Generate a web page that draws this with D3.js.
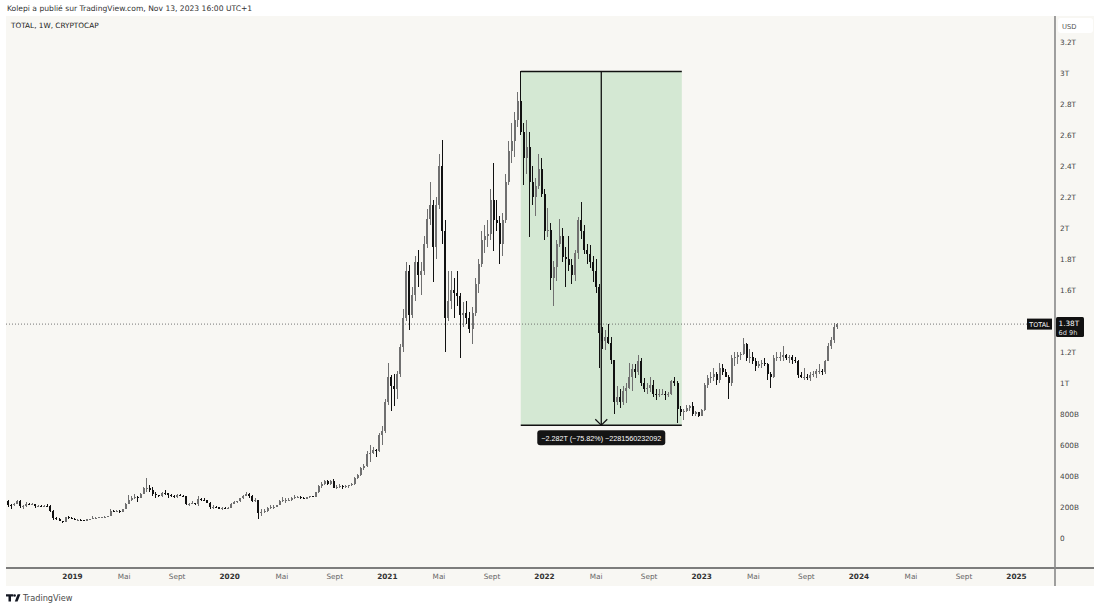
<!DOCTYPE html>
<html><head><meta charset="utf-8">
<script src="https://cdn.jsdelivr.net/npm/d3@7"></script>
<style>
body{margin:0;background:#fff;}
svg{display:block;font-family:"DejaVu Sans",sans-serif;}
</style>
</head><body>
<svg id="c" width="1100" height="608"></svg>
<script>
// ---------- DATA (weekly candles, values in billions USD) ----------
const firstWeek = "2018-08-06";
const firstOpen = 240;

const close2018 = [212,210,220,238,205,208,222,218,218,205,206,203,208,207,175,128,125,110,103,133,128,123];
const high2018  = [245,222,225,245,245,212,230,228,225,222,212,210,210,218,210,178,138,128,112,138,142,135];
const low2018   = [200,188,205,218,195,190,200,212,212,196,200,200,200,203,170,118,118,108,100,102,122,120];

const close2019 = [118,119,115,111,120,121,132,132,134,136,138,144,172,171,176,168,188,222,248,258,265,258,285,325,325,310,285,275,268,292,290,275,272,262,278,272,270,220,222,225,220,250,248,243,228,200,202,200,190,195,193,196];
const high2019  = [130,124,122,118,122,125,140,137,136,138,142,145,185,182,180,182,190,225,275,270,285,268,290,330,388,345,330,300,280,295,310,292,285,275,285,285,280,272,225,240,228,270,260,256,245,230,210,207,202,200,202,200];
const low2019   = [114,114,112,108,108,117,120,126,127,131,133,135,142,165,168,160,166,185,220,240,250,235,255,283,300,295,270,255,262,262,280,255,262,255,258,268,262,210,208,218,215,205,240,240,225,190,188,195,188,180,190,190];

const close2020 = [222,235,238,255,272,282,268,240,245,160,170,175,195,198,200,212,238,245,245,248,260,262,262,258,253,262,268,265,295,335,350,365,350,365,325,330,338,328,335,340,350,390,405,450,465,540,550,565,560,665,690,880];
const high2020  = [225,240,240,258,275,295,290,275,260,248,185,188,200,210,210,215,245,262,255,255,262,275,268,268,262,265,272,272,300,340,360,372,375,372,380,340,350,345,340,345,355,395,410,460,475,560,600,590,575,680,720,900];
const low2020   = [195,218,225,235,250,268,260,235,235,120,145,160,170,190,190,198,210,232,228,238,240,252,255,252,250,250,258,262,262,292,325,340,345,345,320,315,325,315,322,325,338,345,380,400,440,460,490,540,520,555,600,680];

const close2021 = [1040,980,960,1060,1230,1420,1720,1440,1570,1780,1700,1720,1900,2060,2150,1880,2150,2400,1980,1420,1530,1600,1580,1560,1440,1450,1420,1350,1450,1640,1770,1920,1950,1960,2180,2050,2030,1900,2050,2300,2500,2560,2700,2820,2620,2450,2520,2300,2200,2270,2380,2220];
const high2021  = [1130,1050,1060,1080,1250,1480,1780,1760,1620,1820,1860,1780,1950,2120,2300,2180,2200,2480,2570,2050,1720,1720,1680,1720,1580,1520,1530,1460,1490,1680,1800,1980,2020,2050,2250,2420,2180,2080,2100,2350,2560,2680,2750,2880,3010,2680,2700,2620,2400,2320,2480,2450];
const low2021   = [860,820,850,900,1040,1200,1400,1340,1420,1530,1620,1570,1700,1870,2020,1650,1800,2120,1900,1200,1400,1480,1420,1500,1160,1360,1380,1320,1250,1430,1580,1750,1840,1880,1920,1850,1980,1770,1820,2030,2280,2420,2460,2650,2600,2280,2350,1940,2150,2080,2250,2200];

const close2022 = [1980,1990,1680,1750,1900,1950,1810,1800,1760,1700,1840,2050,1980,1860,1830,1780,1720,1620,1320,1270,1300,1260,1150,880,910,880,950,970,1040,1090,1070,1140,1000,960,970,990,930,920,930,930,920,930,1010,1000,830,810,820,840,850,800,810,790];
const high2022  = [2250,2130,2030,1790,1920,2060,2000,1880,1950,1800,1860,2070,2170,2020,1900,1890,1820,1800,1640,1360,1340,1380,1300,1150,980,960,980,1000,1130,1120,1120,1180,1160,1030,1000,1040,1020,960,960,960,950,940,1020,1040,1010,850,830,860,860,880,820,815];
const low2022   = [1920,1940,1600,1500,1660,1880,1780,1620,1720,1640,1660,1800,1930,1830,1770,1740,1650,1580,1100,1220,1210,1250,1120,800,860,840,860,870,960,950,1030,1050,980,940,930,940,910,890,910,920,890,910,920,980,745,790,760,810,820,790,790,780];

const close2023 = [825,990,1030,1040,1060,1020,1100,1070,1040,1000,1160,1170,1180,1190,1250,1160,1170,1140,1110,1120,1130,1120,1060,1040,1160,1170,1170,1180,1160,1170,1150,1140,1050,1040,1040,1030,1050,1060,1080,1080,1070,1140,1240,1280,1360,1380];
const high2023  = [830,1000,1050,1070,1100,1070,1130,1120,1090,1050,1180,1200,1200,1200,1290,1260,1220,1200,1160,1140,1150,1160,1130,1070,1180,1200,1200,1240,1190,1180,1180,1170,1150,1070,1100,1060,1070,1080,1090,1120,1090,1150,1260,1300,1390,1390];
const low2023   = [785,820,970,1000,1010,990,1000,1050,1040,900,980,1110,1120,1150,1180,1140,1130,1120,1080,1100,1100,1110,1020,970,1030,1140,1140,1140,1150,1130,1120,1130,1030,1030,1020,1020,1010,1040,1030,1060,1050,1060,1140,1220,1260,1350];

// axis ticks (1.4T is hidden under the last-price label in the original)
const xTickDates  = ["2019-01-01","2019-05-01","2019-09-01","2020-01-01","2020-05-01","2020-09-01","2021-01-01","2021-05-01","2021-09-01","2022-01-01","2022-05-01","2022-09-01","2023-01-01","2023-05-01","2023-09-01","2024-01-01","2024-05-01","2024-09-01","2025-01-01"];
const xTickLabels = ["2019","Mai","Sept","2020","Mai","Sept","2021","Mai","Sept","2022","Mai","Sept","2023","Mai","Sept","2024","Mai","Sept","2025"];
const yTicks = [0,200,400,600,800,1000,1200,1600,1800,2000,2200,2400,2600,2800,3000,3200];

// measurement annotation
const measureDates  = ["2021-11-08","2022-11-17"];
const measureValues = [3009.7, 727.7];
const measureText   = "\u22122.282T (\u221275.82%) \u22122281560232092";
const lastValue = 1380;

// ---------- BUILD ----------
const closes = [].concat(close2018, close2019, close2020, close2021, close2022, close2023);
const highs  = [].concat(high2018, high2019, high2020, high2021, high2022, high2023);
const lows   = [].concat(low2018, low2019, low2020, low2021, low2022, low2023);
const t0 = new Date(firstWeek + "T00:00:00Z");
const candles = closes.map((c, i) => ({
  date: d3.utcWeek.offset(t0, i),
  open: i === 0 ? firstOpen : closes[i - 1],
  high: highs[i], low: lows[i], close: c
}));

const svg = d3.select("#c");
const W = 1100, H = 608;
const paneL = 6, paneR = 1094, paneT = 16, paneB = 586, plotR = 1055, plotB = 568;

const x = d3.scaleUtc()
  .domain([new Date("2019-01-01T00:00:00Z"), new Date("2025-01-01T00:00:00Z")])
  .range([72, 1016]);
const y = d3.scaleLinear().domain([0, 3000]).range([538, 73]);

svg.append("rect").attr("width", W).attr("height", H).attr("fill", "#fff");
svg.append("rect").attr("x", paneL).attr("y", paneT).attr("width", paneR - paneL).attr("height", paneB - paneT).attr("fill", "#f8f7f3");

// header
svg.append("text").attr("x", 7).attr("y", 11).attr("font-size", 7.6).attr("fill", "#333")
  .text("Kolepi a publié sur TradingView.com, Nov 13, 2023 16:00 UTC+1");
svg.append("text").attr("x", 11).attr("y", 28).attr("font-size", 7.3).attr("fill", "#222")
  .text("TOTAL, 1W, CRYPTOCAP");

const defs = svg.append("defs");
defs.append("clipPath").attr("id", "plotclip").append("rect")
  .attr("x", paneL).attr("y", paneT).attr("width", plotR - paneL).attr("height", plotB - paneT);

const plot = svg.append("g").attr("clip-path", "url(#plotclip)");

// measurement box fill
const mx0 = x(new Date(measureDates[0] + "T00:00:00Z")), mx1 = x(new Date(measureDates[1] + "T00:00:00Z"));
const my0 = y(measureValues[0]), my1 = y(measureValues[1]);
plot.append("rect").attr("x", mx0).attr("y", my0).attr("width", mx1 - mx0).attr("height", my1 - my0)
  .attr("fill", "#d4e8d3");

// last price dotted line
plot.append("line").attr("x1", paneL).attr("x2", 1027).attr("y1", y(lastValue)).attr("y2", y(lastValue))
  .attr("stroke", "#555").attr("stroke-width", 0.8).attr("stroke-dasharray", "1,2");

// candles
const cg = plot.append("g").attr("shape-rendering", "crispEdges");
const up = "#707070", dn = "#111";
cg.selectAll("rect.w").data(candles).join("rect").attr("class", "w")
  .attr("x", d => x(d.date) - 0.5).attr("width", 1)
  .attr("y", d => y(d.high)).attr("height", d => Math.max(1, y(d.low) - y(d.high)))
  .attr("fill", d => d.close >= d.open ? up : dn);
cg.selectAll("rect.b").data(candles).join("rect").attr("class", "b")
  .attr("x", d => x(d.date) - 1).attr("width", 2)
  .attr("y", d => y(Math.max(d.open, d.close)))
  .attr("height", d => Math.max(1, Math.abs(y(d.open) - y(d.close))))
  .attr("fill", d => d.close >= d.open ? up : dn);

// measurement lines
const mcx = (mx0 + mx1) / 2;
const ml = plot.append("g").attr("stroke", "#111").attr("fill", "none");
ml.append("line").attr("x1", mx0).attr("x2", mx1).attr("y1", my0).attr("y2", my0).attr("stroke-width", 1.5);
ml.append("line").attr("x1", mx0).attr("x2", mx1).attr("y1", my1).attr("y2", my1).attr("stroke-width", 1.5);
ml.append("line").attr("x1", mcx).attr("x2", mcx).attr("y1", my0).attr("y2", my1).attr("stroke-width", 1.3);
ml.append("path").attr("d", `M${mcx - 6},${my1 - 6}L${mcx},${my1}L${mcx + 6},${my1 - 6}`).attr("stroke-width", 1.2);

// measurement label
const lg = svg.append("g");
lg.append("rect").attr("x", mcx - 64).attr("y", my1 + 5).attr("width", 128).attr("height", 15).attr("rx", 3).attr("fill", "#141414");
lg.append("text").attr("x", mcx).attr("y", my1 + 15.3).attr("text-anchor", "middle").attr("font-size", 7.2).attr("fill", "#fff")
  .attr("font-family", "Liberation Sans, Arial, sans-serif").text(measureText);

// axes borders
svg.append("line").attr("x1", paneL).attr("x2", paneR).attr("y1", plotB).attr("y2", plotB).attr("stroke", "#555").attr("stroke-width", 1.3);
svg.append("line").attr("x1", plotR).attr("x2", plotR).attr("y1", paneT).attr("y2", paneB).attr("stroke", "#888").attr("stroke-width", 1.6);

// x axis
const xa = svg.append("g").attr("transform", `translate(0,${plotB})`)
  .call(d3.axisBottom(x).tickValues(xTickDates.map(s => new Date(s + "T00:00:00Z")))
    .tickFormat((d, i) => xTickLabels[i]).tickSize(0).tickPadding(6));
xa.select(".domain").remove();
xa.selectAll("text").attr("font-size", 7.3).attr("font-family", "DejaVu Sans, sans-serif")
  .attr("fill", (d, i) => /^\d/.test(xTickLabels[i]) ? "#333" : "#666")
  .attr("font-weight", (d, i) => /^\d/.test(xTickLabels[i]) ? "bold" : "normal");

// y axis
const fmt = v => v === 0 ? "0" : v < 1000 ? v + "B" : (v / 1000) + "T";
const ya = svg.append("g").attr("transform", `translate(${plotR},0)`)
  .call(d3.axisRight(y).tickValues(yTicks).tickFormat(fmt).tickSize(0).tickPadding(5));
ya.select(".domain").remove();
ya.selectAll("text").attr("font-size", 7.3).attr("font-family", "DejaVu Sans, sans-serif").attr("fill", "#444");

// USD box
svg.append("rect").attr("x", 1058).attr("y", 18).attr("width", 35).attr("height", 15).attr("rx", 3).attr("fill", "#fff");
svg.append("text").attr("x", 1062).attr("y", 28.5).attr("font-size", 6.8).attr("fill", "#555").text("USD");

// last price labels
const ly = y(lastValue);
svg.append("rect").attr("x", 1027).attr("y", ly - 5.5).attr("width", 25).attr("height", 11).attr("fill", "#111");
svg.append("text").attr("x", 1039.5).attr("y", ly + 2.6).attr("text-anchor", "middle").attr("font-size", 6.4).attr("fill", "#fff").text("TOTAL");
svg.append("rect").attr("x", 1056).attr("y", ly - 7).attr("width", 28).attr("height", 20).attr("rx", 1.5).attr("fill", "#111");
svg.append("text").attr("x", 1058.5).attr("y", ly + 2.3).attr("font-size", 7.3).attr("fill", "#fff").text("1.38T");
svg.append("text").attr("x", 1058.5).attr("y", ly + 10.5).attr("font-size", 6.6).attr("fill", "#ddd").text("6d 9h");

// TradingView logo
const logo = svg.append("g").attr("fill", "#131722");
logo.append("path").attr("d", "M6,594.3H13.2V596.6H11V601.5H8.5V596.6H6Z");
logo.append("circle").attr("cx", 14.6).attr("cy", 595.5).attr("r", 1.3);
logo.append("path").attr("d", "M17.6,594.3H20.4L17.6,601.5H14.8Z");
svg.append("text").attr("x", 23).attr("y", 601).attr("font-size", 8.2).attr("fill", "#4a4a4a").text("TradingView");
</script>
</body></html>
